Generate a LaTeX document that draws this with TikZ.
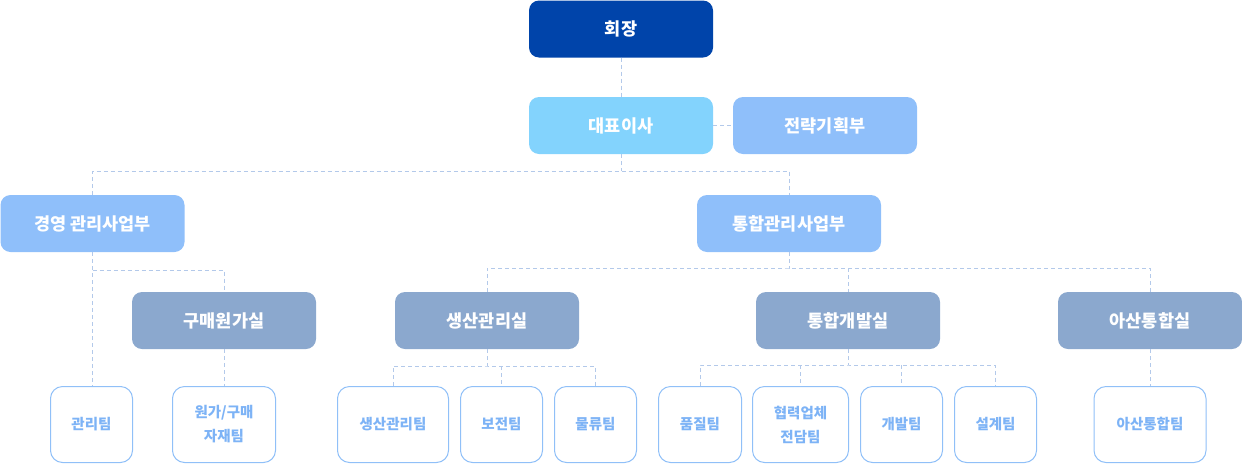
\documentclass[tikz,border=0pt]{standalone}
\usepackage{fontspec}
\setmainfont{Noto Sans CJK KR}
\definecolor{chairblue}{RGB}{0,68,170}
\definecolor{ceoblue}{RGB}{131,211,253}
\definecolor{deptblue}{RGB}{143,191,250}
\definecolor{officeblue}{RGB}{139,168,206}
\definecolor{teamline}{RGB}{144,192,248}
\definecolor{teamtext}{RGB}{125,179,246}
\definecolor{linkgray}{RGB}{179,201,234}

\begin{document}
\begin{tikzpicture}[
    x=1pt, y=-1pt,
    box/.style={                    % the filled boxes
        rounded corners=10pt, inner sep=0pt,
        minimum width=184pt, minimum height=57pt,
        text=white, font=\bfseries\fontsize{17.5}{20}\selectfont
    },
    chair/.style={box, fill=chairblue},
    ceo/.style={box, fill=ceoblue},
    dept/.style={box, fill=deptblue},
    office/.style={box, fill=officeblue},
    team/.style={                   % the white team boxes
        draw=teamline, line width=1pt, fill=white,
        rounded corners=12pt, inner sep=0pt,
        minimum height=76pt, align=center,
        text=teamtext, font=\bfseries\fontsize{14.5}{24}\selectfont
    },
    link/.style={draw=linkgray, line width=1pt, dash pattern=on 4pt off 3pt},
 ]
    \useasboundingbox (0,0) rectangle (1242,464);
    % ~~~ top of the chart ~~~~~~~~~~~~~~
    \node[chair]  (chair) at (621,29)    {회장};
    \node[ceo]    (ceo)   at (621,125.5) {대표이사};
    \node[dept]   (plan)  at (825,125.5) {전략기획부};
    % ~~~ divisions ~~~~~~~~~~~~~~~~~~~~~
    \node[dept]   (mgmt)  at (92.5,223.5) {경영 관리사업부};
    \node[dept]   (integ) at (789,223.5)  {통합관리사업부};
    % ~~~ offices ~~~~~~~~~~~~~~~~~~~~~~~
    \node[office] (buy)   at (224,320.5)  {구매원가실};
    \node[office] (prod)  at (487,320.5)  {생산관리실};
    \node[office] (dev)   at (848,320.5)  {통합개발실};
    \node[office] (asan)  at (1150,320.5) {아산통합실};
    % ~~~ teams ~~~~~~~~~~~~~~~~~~~~~~~~~
    \foreach \n/\x/\w/\t in {t-admin/91.5/82/관리팀,
                             t-cost/224/103/{원가/구매\\자재팀},
                             t-prodm/393/111/생산관리팀,
                             t-maint/501.5/82/보전팀,
                             t-logi/595.5/82/물류팀,
                             t-qual/700/83/품질팀,
                             t-partner/800.5/96/{협력업체\\전담팀},
                             t-dev/901.5/82/개발팀,
                             t-design/995.5/82/설계팀,
                             t-asan/1150/112/아산통합팀}
        \node[team, minimum width=\w pt] (\n) at (\x,424.5) {\t};

    % ~~~ junctions ~~~~~~~~~~~~~~~~~~~~~
    \coordinate (j0) at (621,171);
    \coordinate (j1) at (92.5,270);
    \coordinate (j2) at (487,366);
    \coordinate (j3) at (848,365);
    \coordinate (j4) at (789,268);
    % ~~~ connectors ~~~~~~~~~~~~~~~~~~~~
    \draw[link] (chair) -- (ceo);
    \draw[link] (ceo) -- (plan);
    \draw[link] (ceo.south) -- (j0);
    \draw[link] (mgmt.north) |- (j0) -| (integ.north);
    \draw[link] (mgmt.south) -- (mgmt.south |- t-admin.north);
    \draw[link] (j1) -| (buy.north);
    \draw[link] (buy) -- (t-cost);
    \draw[link] (integ.south) -- (j4);
    \draw[link] (prod.north) |- (j4) -| (asan.north);
    \draw[link] (j4 -| dev.north) -- (dev.north);
    \draw[link] (prod.south) -- (j2);
    \draw[link] (t-prodm.north) |- (j2) -| (t-logi.north);
    \draw[link] (j2 -| t-maint.north) -- (t-maint.north);
    \draw[link] (dev.south) -- (j3);
    \draw[link] (t-qual.north) |- (j3) -| (t-design.north);
    \foreach \n in {t-partner,t-dev}
        \draw[link] (j3 -| \n.north) -- (\n.north);
    \draw[link] (asan) -- (t-asan);
\end{tikzpicture}
\end{document}
